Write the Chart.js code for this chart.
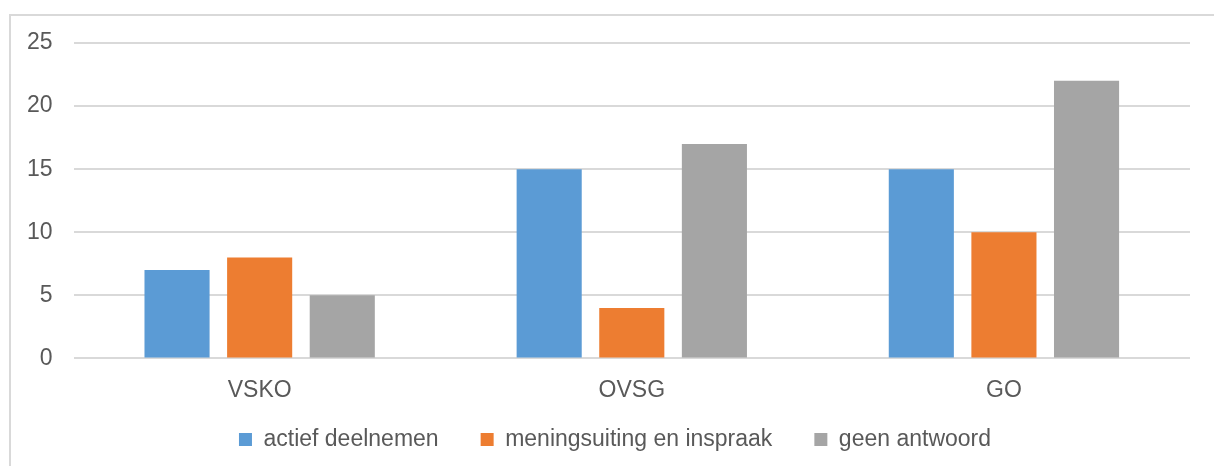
<!DOCTYPE html>
<html>
<head>
<meta charset="utf-8">
<style>
  html, body { margin: 0; padding: 0; background: #fff; }
  #frame { position: absolute; left: 9px; top: 14px; width: 1205px; height: 452px; border-left: 2px solid #d9d9d9; border-top: 2px solid #d9d9d9; }
  #myChart { position: absolute; left: 0; top: 0; }
</style>
<script src="https://cdn.jsdelivr.net/npm/chart.js@4/dist/chart.umd.min.js"></script>
</head>
<body>
<div id="frame"></div>
<canvas id="myChart" width="1214" height="466"></canvas>
<script>
var categories = ['VSKO', 'OVSG', 'GO'];
var actief = [7, 15, 15];
var mening = [8, 4, 10];
var geen = [5, 17, 22];
var yTicks = [0, 5, 10, 15, 20, 25];

Chart.defaults.font.family = '"Liberation Sans", Arial, sans-serif';
Chart.defaults.color = '#595959';

// legend items are spaced wide apart, but the legend sits close under the axis labels
var legendShift = {
  id: 'legendShift',
  beforeDraw: function (chart) {
    var lg = chart.legend;
    lg.top -= 36;
    lg.bottom = chart.height;
    lg.left += 17;
    lg.right += 17;
  }
};

var ctx = document.getElementById('myChart').getContext('2d');
var myChart = new Chart(ctx, {
    type: 'bar',
    data: {
        labels: categories,
        datasets: [
          { label: 'actief deelnemen', data: actief, backgroundColor: '#5b9bd5' },
          { label: 'meningsuiting en inspraak', data: mening, backgroundColor: '#ed7d31' },
          { label: 'geen antwoord', data: geen, backgroundColor: '#a5a5a5' }
        ]
    },
    options: {
        responsive: false,
        animation: false,
        events: [],
        categoryPercentage: 0.666,
        barPercentage: 0.788,
        layout: { padding: { left: 6, right: 24, top: 43, bottom: 0 } },
        scales: {
          x: {
            grid: { display: false, drawTicks: false },
            border: { display: false },
            ticks: { font: { size: 23 }, padding: 18 }
          },
          y: {
            min: 0, max: 25,
            afterBuildTicks: function (axis) { axis.ticks = yTicks.map(function (v) { return { value: v }; }); },
            grid: { color: '#d9d9d9', lineWidth: 2, drawTicks: false },
            border: { display: false },
            ticks: { font: { size: 23 }, padding: 21 }
          }
        },
        plugins: {
          tooltip: { enabled: false },
          legend: {
            position: 'bottom',
            maxHeight: 44,
            labels: { boxWidth: 13, boxHeight: 13, font: { size: 23 }, padding: 42 }
          }
        }
    },
    plugins: [legendShift]
});
</script>
</body>
</html>
